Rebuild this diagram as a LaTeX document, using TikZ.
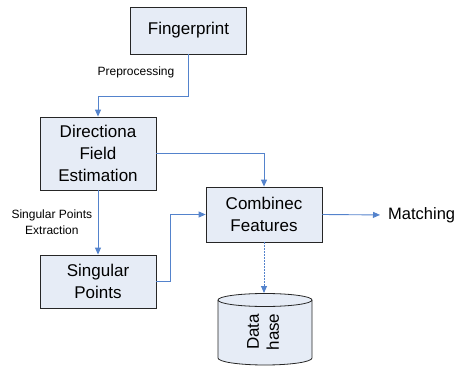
\documentclass[tikz,border=0pt]{standalone}
\usepackage{fontspec}
\setmainfont{Liberation Sans}
\usetikzlibrary{arrows.meta}
\definecolor{boxfill}{RGB}{230,236,246}
\definecolor{linkblue}{RGB}{84,131,204}

\begin{document}
\begin{tikzpicture}[x=1pt, y=-1pt,
  box/.style={draw=black!85, fill=boxfill, line width=0.8pt, align=center,
    inner sep=0pt, font=\fontsize{17}{22}\selectfont},
  link/.style={draw=linkblue, line width=0.9pt,
    -{Triangle[length=7pt, width=6pt]}},
  small/.style={align=center, font=\fontsize{12}{16}\selectfont}]
  \useasboundingbox (0,0) rectangle (460,366);

  \node[box, minimum width=116, minimum height=47] (fp)   at (188.5,30.5) {Fingerprint};
  \node[box, minimum width=116, minimum height=73] (dir)  at (98,153.5)   {Directiona\\Field\\Estimation};
  \node[box, minimum width=116, minimum height=55] (comb) at (264,214.5)  {Combinec\\Features};
  \node[box, minimum width=116, minimum height=53] (sing) at (98,281.5)   {Singular\\Points};
  \node[anchor=west, inner sep=0pt, font=\fontsize{16.5}{20}\selectfont] (match) at (388,215) {Matching};

  % Datenbank als Zylinder
  \coordinate (dbtop) at (264,293);
  \draw[black!85, fill=boxfill, line width=0.8pt] (218,300) -- (218,358)
    arc[start angle=180, end angle=0, x radius=47, y radius=7] -- (312,300)
    arc[start angle=0, end angle=-180, x radius=47, y radius=6.5] -- cycle;
  \draw[black!85, line width=0.8pt] (218,300)
    arc[start angle=180, end angle=0, x radius=47, y radius=6.5];
  \node[rotate=90, align=center, font=\fontsize{17}{20}\selectfont] (db) at (263,332) {Data\\hase};

  \node[small] (pre) at (136,72)  {Preprocessing};

  \draw[link] (fp.south) -- ++(0,42) -| (dir.north);
  \draw[link] (dir.south) -- (sing.north)
    node[midway, left, small, xshift=-2pt] {Singular Points\\Extraction};
  \draw[link] (dir.east) -| (comb.north);
  \draw[link] (sing.east) -- ++(14,0) |- (comb.west);
  \draw[link, shorten >=8pt] (comb.east) -- (match.west);
  \draw[link, dash pattern=on 2pt off 1pt] (comb.south) -- (dbtop);
\end{tikzpicture}
\end{document}
